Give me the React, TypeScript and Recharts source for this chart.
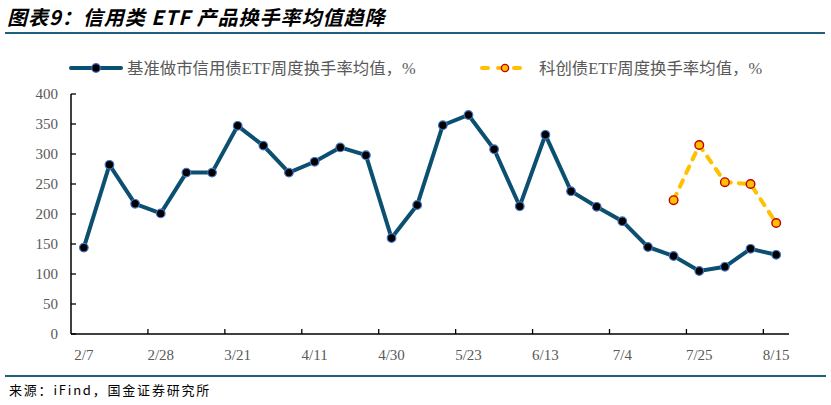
import React from 'react';
import { LineChart, Line, XAxis, YAxis } from 'recharts';

const categories = ['2/7','2/14','2/21','2/28','3/7','3/14','3/21','3/28','4/3','4/11','4/18','4/25','4/30','5/9','5/16','5/23','5/30','6/6','6/13','6/20','6/27','7/4','7/11','7/18','7/25','8/1','8/8','8/15'];
const mainValues = [144,282,217,201,269,269,347,314,269,287,311,298,160,215,348,365,308,213,332,238,212,188,145,130,105,112,142,132];
const kcValues: (number | null)[] = [null,null,null,null,null,null,null,null,null,null,null,null,null,null,null,null,null,null,null,null,null,null,null,223,315,253,250,185];
const yTicks = [0,50,100,150,200,250,300,350,400];

const mainName = '基准做市信用债ETF周度换手率均值，%';
const kcName = '科创债ETF周度换手率均值，%';
const title = '图表9：信用类 ETF 产品换手率均值趋降';
const source = '来源：iFind，国金证券研究所';

const data = categories.map((c, i) => ({ date: c, main: mainValues[i], kc: kcValues[i] }));

const W = 831;
const H = 405;
const PLOT_LEFT = 71;
const PLOT_RIGHT = 789;
const PLOT_TOP = 94;
const PLOT_BOTTOM = 334;
const BAND = (PLOT_RIGHT - PLOT_LEFT) / categories.length;

const MAIN_COLOR = '#0B4F71';
const KC_COLOR = '#FFC000';
const LABEL_COLOR = '#595959';
const SERIF = '"Liberation Serif", "Times New Roman", "Noto Sans CJK SC", serif';

const XTick = (props: any) => {
  const { x, y, payload, index } = props;
  const tx = x - BAND / 2;
  return (
    <g>
      {index !== 0 && (
        <line x1={tx} y1={PLOT_BOTTOM} x2={tx} y2={PLOT_BOTTOM - 5} stroke="#000" strokeWidth={1.3} />
      )}
      <text x={x} y={y + 18} textAnchor="middle" fill={LABEL_COLOR} fontSize={15} fontFamily={SERIF}>
        {payload.value}
      </text>
    </g>
  );
};

const YTick = (props: any) => {
  const { y, payload } = props;
  return (
    <g>
      <line x1={PLOT_LEFT} y1={y} x2={PLOT_LEFT + 5} y2={y} stroke="#000" strokeWidth={1.3} />
      <text x={PLOT_LEFT - 13} y={y + 5} textAnchor="end" fill={LABEL_COLOR} fontSize={15} fontFamily={SERIF}>
        {payload.value}
      </text>
    </g>
  );
};

const MainDot = (props: any) => {
  const { cx, cy, value } = props;
  if (value == null) return null;
  return <circle cx={cx} cy={cy} r={4.3} fill="#000" stroke="#4472C4" strokeWidth={1.2} />;
};

const KcDot = (props: any) => {
  const { cx, cy, value } = props;
  if (value == null) return null;
  return <circle cx={cx} cy={cy} r={4.3} fill={KC_COLOR} stroke="#C00000" strokeWidth={1.4} />;
};

export default function App() {
  return (
    <div style={{ position: 'absolute', left: 0, top: 0, width: W, height: H, background: '#fff', overflow: 'hidden' }}>
      <div
        style={{
          position: 'absolute', left: 7, top: 4, fontSize: 20, fontWeight: 700, fontStyle: 'italic',
          fontFamily: '"Noto Sans CJK SC", sans-serif', color: '#000', letterSpacing: 1, whiteSpace: 'nowrap', lineHeight: '26px',
        }}
      >
        {title}
      </div>
      <div style={{ position: 'absolute', left: 5, top: 32, width: 820, height: 2, background: '#1F5F80' }} />

      <svg style={{ position: 'absolute', left: 0, top: 0 }} width={W} height={90}>
        <line x1={71} y1={68} x2={121} y2={68} stroke={MAIN_COLOR} strokeWidth={4} strokeLinecap="round" />
        <circle cx={96} cy={68} r={4.3} fill="#000" stroke="#4472C4" strokeWidth={1.2} />
        <text x={127} y={74} fill={LABEL_COLOR} fontSize={16.4} fontFamily={SERIF}>{mainName}</text>
        <line x1={482} y1={68} x2={527} y2={68} stroke={KC_COLOR} strokeWidth={4} strokeLinecap="round" strokeDasharray="6 10" />
        <circle cx={505} cy={68} r={3.6} fill={KC_COLOR} stroke="#C00000" strokeWidth={1.4} />
        <text x={539} y={74} fill={LABEL_COLOR} fontSize={16.4} fontFamily={SERIF}>{kcName}</text>
      </svg>

      <div style={{ position: 'absolute', left: 0, top: 0 }}>
        <LineChart
          width={W}
          height={H}
          data={data}
          margin={{ top: PLOT_TOP, right: W - PLOT_RIGHT, bottom: H - PLOT_BOTTOM - 30, left: PLOT_LEFT - 50 }}
        >
          <XAxis
            dataKey="date"
            interval={2}
            height={30}
            padding={{ left: BAND / 2, right: BAND / 2 }}
            tickLine={false}
            axisLine={{ stroke: '#000', strokeWidth: 1.5 }}
            tick={<XTick />}
          />
          <YAxis
            width={50}
            domain={[0, 400]}
            ticks={yTicks}
            tickLine={false}
            axisLine={{ stroke: '#000', strokeWidth: 1.5 }}
            tick={<YTick />}
            interval={0}
          />
          <Line
            type="linear"
            dataKey="main"
            stroke={MAIN_COLOR}
            strokeWidth={4}
            dot={<MainDot />}
            activeDot={false}
            isAnimationActive={false}
          />
          <Line
            type="linear"
            dataKey="kc"
            stroke={KC_COLOR}
            strokeWidth={4}
            strokeDasharray="7 8"
            strokeLinecap="round"
            dot={<KcDot />}
            activeDot={false}
            connectNulls={false}
            isAnimationActive={false}
          />
        </LineChart>
      </div>

      <div style={{ position: 'absolute', left: 5, top: 375, width: 821, height: 2, background: '#1F5F80' }} />
      <div
        style={{
          position: 'absolute', left: 9, top: 381, fontSize: 13, fontFamily: '"Noto Sans CJK SC", monospace',
          color: '#000', letterSpacing: 1.8, whiteSpace: 'nowrap', lineHeight: '18px',
        }}
      >
        {source}
      </div>
    </div>
  );
}
